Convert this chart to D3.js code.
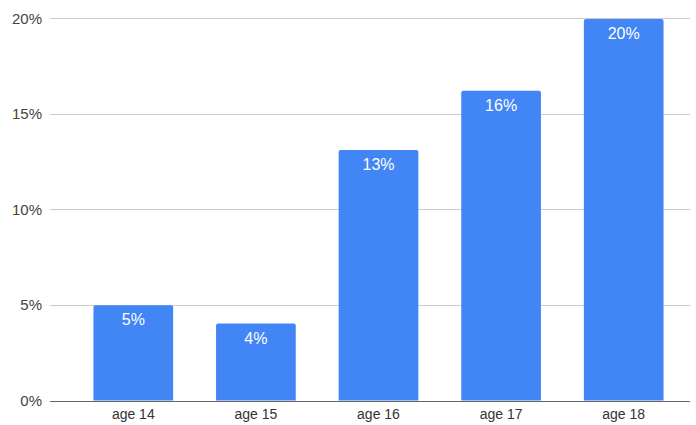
<!DOCTYPE html>
<html><head><meta charset="utf-8">
<script src="https://cdn.jsdelivr.net/npm/d3@7"></script>
<style>html,body{margin:0;padding:0;background:#fff;}svg{display:block;font-family:"Liberation Sans", Arial, sans-serif;}</style>
</head><body>
<svg id="chart" width="696" height="425"></svg>
<script>
const categories = ["age 14", "age 15", "age 16", "age 17", "age 18"];
const values = [4.98, 4.02, 13.1, 16.2, 19.95];
const labels = ["5%", "4%", "13%", "16%", "20%"];
const yTicks = [0, 5, 10, 15, 20];

const svg = d3.select("#chart");
const x = d3.scaleBand().domain(categories).range([72, 685]).paddingInner(0.35).paddingOuter(0.175);
const y = d3.scaleLinear().domain([0, 20]).range([400.5, 18]);

// gridlines
svg.append("g").selectAll("line").data(yTicks.filter(d => d > 0)).join("line")
  .attr("x1", 50).attr("x2", 690)
  .attr("y1", d => Math.round(y(d)) + 0.5).attr("y2", d => Math.round(y(d)) + 0.5)
  .attr("stroke", "#cccccc").attr("stroke-width", 1);

// y labels
svg.append("g").selectAll("text").data(yTicks).join("text")
  .attr("x", 42).attr("y", d => y(d) + 5.5)
  .attr("text-anchor", "end").attr("font-size", 15).attr("fill", "#444")
  .text(d => d + "%");

// bars
svg.append("g").selectAll("path").data(values).join("path")
  .attr("fill", "#4285F4")
  .attr("d", (d, i) => {
    const x0 = x(categories[i]), w = x.bandwidth(), y0 = y(d), y1 = y(0), r = 2;
    return `M${x0},${y1}V${y0 + r}Q${x0},${y0} ${x0 + r},${y0}H${x0 + w - r}Q${x0 + w},${y0} ${x0 + w},${y0 + r}V${y1}Z`;
  });

// value labels
svg.append("g").selectAll("text").data(values).join("text")
  .attr("x", (d, i) => x(categories[i]) + x.bandwidth() / 2)
  .attr("y", d => y(d) + 20)
  .attr("text-anchor", "middle").attr("font-size", 16).attr("fill", "#fff")
  .text((d, i) => labels[i]);

// baseline
svg.append("line").attr("x1", 50).attr("x2", 690)
  .attr("y1", Math.round(y(0)) + 0.5).attr("y2", Math.round(y(0)) + 0.5)
  .attr("stroke", "#666").attr("stroke-width", 1);

// x labels
svg.append("g").selectAll("text").data(categories).join("text")
  .attr("x", d => x(d) + x.bandwidth() / 2).attr("y", 418.5)
  .attr("text-anchor", "middle").attr("font-size", 14).attr("fill", "#333")
  .text(d => d);
</script>
</body></html>
